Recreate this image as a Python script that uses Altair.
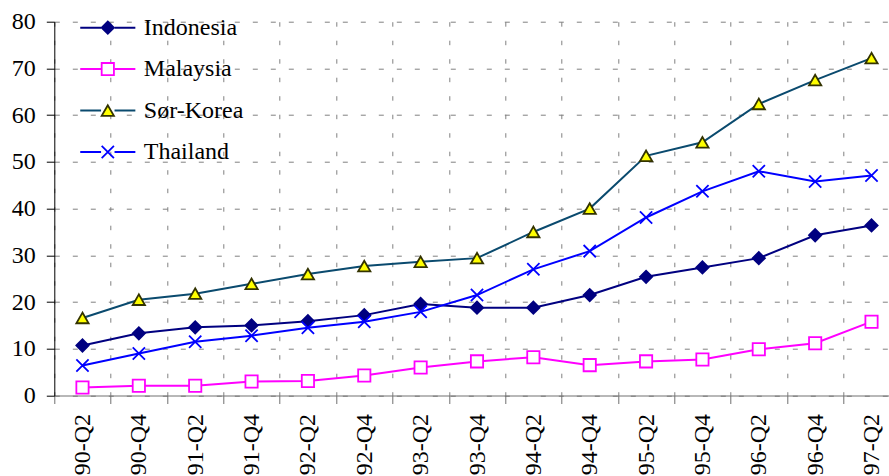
import json
import altair as alt
import pandas as pd

# ---- data ----
quarters = ["1990-Q2", "1990-Q4", "1991-Q2", "1991-Q4", "1992-Q2", "1992-Q4",
            "1993-Q2", "1993-Q4", "1994-Q2", "1994-Q4", "1995-Q2", "1995-Q4",
            "1996-Q2", "1996-Q4", "1997-Q2"]
series_names = ["Indonesia", "Malaysia", "Sør-Korea", "Thailand"]
indonesia = [10.7, 13.3, 14.6, 15.0, 15.9, 17.2, 19.6, 18.8, 18.8, 21.5, 25.4, 27.4, 29.4, 34.3, 36.4]
malaysia = [1.7, 2.1, 2.1, 3.0, 3.1, 4.3, 6.0, 7.3, 8.2, 6.5, 7.3, 7.7, 9.9, 11.2, 15.8]
sor_korea = [16.6, 20.5, 21.8, 23.9, 26.0, 27.7, 28.6, 29.4, 35.0, 40.0, 51.3, 54.2, 62.4, 67.5, 72.2]
thailand = [6.4, 9.0, 11.5, 12.8, 14.5, 15.8, 17.9, 21.5, 27.0, 30.9, 38.1, 43.7, 48.0, 45.8, 47.1]
y_ticks = [0, 10, 20, 30, 40, 50, 60, 70, 80]

# ---- styles ----
line_colors = ["#000080", "#FF00FF", "#0A4A6E", "#0000FF"]
marker_fills = ["#000080", "#FFFFFF", "#FFFF00", "#0000FF"]
marker_strokes = ["#000080", "#FF00FF", "#333300", "#0000FF"]
marker_shapes = ["diamond", "square", "triangle-up", "M-1,-1L1,1M-1,1L1,-1"]
FONT = "Liberation Serif"
FS = 24

rows = []
for name, vals in zip(series_names, [indonesia, malaysia, sor_korea, thailand]):
    for i, (q, v) in enumerate(zip(quarters, vals)):
        rows.append({"idx": i, "quarter": q, "series": name, "marker": name, "value": v})
df = pd.DataFrame(rows)

n = len(quarters)
band_px = 56.36
plot_w = 834.7
plot_h = 373.8
x_max = -0.5 + plot_w / band_px

label_expr = f"{json.dumps(quarters)}[round(datum.value + 0.5)]"

x_axis = alt.Axis(
    values=[k - 0.5 for k in range(n)],
    labelExpr=label_expr,
    labelOffset=band_px / 2,
    labelAngle=270,
    labelFont=FONT, labelFontSize=FS, labelColor="black",
    labelPadding=10, labelOverlap=False, labelFlush=False,
    tickSize=8, tickColor="#707070", domainColor="#707070",
    grid=True, gridDash=[4.5, 14], gridColor="#808080", gridWidth=1,
    title=None,
)
y_axis = alt.Axis(
    values=y_ticks,
    tickSize=8, tickColor="black", domainColor="black",
    labelFont=FONT, labelFontSize=FS, labelColor="black", labelPadding=11,
    grid=True, gridDash=[5, 13], gridColor="#808080", gridWidth=1,
    title=None,
)
x_scale = alt.Scale(domain=[-0.5, x_max], nice=False, zero=False)
y_scale = alt.Scale(domain=[0, 80], nice=False)

leg_common = dict(
    orient="none", legendX=41.5, legendY=-6, title=None, padding=0,
    labelFont=FONT, labelFontSize=FS, labelLimit=0, rowPadding=17.4,
    symbolSize=150, labelOffset=24,
)

# lines: axes are defined here only; legend from the colour channel
lines = alt.Chart(df).mark_line(strokeWidth=2).encode(
    x=alt.X("idx:Q", scale=x_scale, axis=x_axis),
    y=alt.Y("value:Q", scale=y_scale, axis=y_axis),
    color=alt.Color(
        "series:N",
        scale=alt.Scale(range=line_colors),
        legend=alt.Legend(symbolType="M-4.5,0H-1.1M1.1,0H4.5", symbolStrokeWidth=2,
                          labelColor="transparent", **leg_common),
    ),
)

marker_legend = alt.Legend(labelColor="black", symbolStrokeWidth=1.8,
                           symbolFillColor="white", symbolStrokeColor="black", **leg_common)
points = alt.Chart(df).mark_point(filled=False, opacity=1, fillOpacity=1, size=150, strokeWidth=1.8).encode(
    x=alt.X("idx:Q", scale=x_scale),
    y=alt.Y("value:Q", scale=y_scale),
    shape=alt.Shape("marker:N", scale=alt.Scale(domain=series_names, range=marker_shapes),
                    legend=marker_legend),
    fill=alt.Fill("marker:N", scale=alt.Scale(domain=series_names, range=marker_fills),
                  legend=marker_legend),
    stroke=alt.Stroke("marker:N", scale=alt.Scale(domain=series_names, range=marker_strokes),
                      legend=marker_legend),
)

chart = alt.layer(lines, points).properties(
    width=plot_w, height=plot_h,
    padding={"left": 54.3, "top": 21.7, "right": 0, "bottom": 80.5},
    autosize=alt.AutoSizeParams(type="none"),
).configure(font=FONT).configure_legend(
    labelFont=FONT, labelFontSize=FS
).configure_view(stroke=None)

chart.save("out.html", embed_options={"renderer": "svg", "actions": False})
